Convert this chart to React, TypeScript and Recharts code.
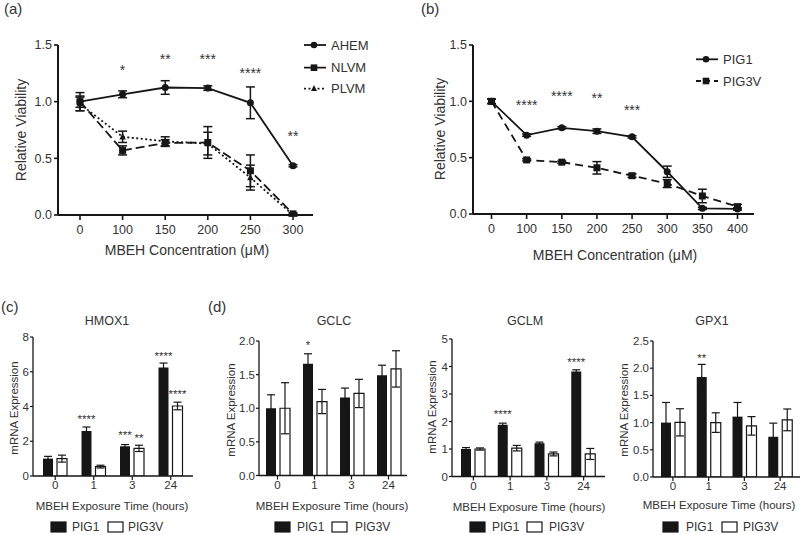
import React from 'react';
import { LineChart, Line, BarChart, Bar, XAxis, YAxis, ErrorBar, LabelList } from 'recharts';

const INK = '#161616';
const TXT = '#333333';
const FONT = '"Liberation Sans", Arial, Helvetica, sans-serif';

// ---------- Panel (a) ----------
const concA = ['0', '100', '150', '200', '250', '300'];
const ahem = [1.0, 1.065, 1.125, 1.12, 0.99, 0.435];
const ahemErr = [0.05, 0.03, 0.06, 0.02, 0.14, 0.01];
const nlvm = [1.0, 0.57, 0.635, 0.64, 0.39, 0.01];
const nlvmErr = [0.08, 0.04, 0.03, 0.14, 0.14, 0.01];
const plvm = [0.98, 0.69, 0.65, 0.63, 0.33, 0.0];
const plvmErr = [0.06, 0.05, 0.04, 0.1, 0.11, 0.01];
const starsA = ['', '*', '**', '***', '****', '**'];
const starYA = [null, 1.31, 1.41, 1.41, 1.28, 0.73];

// ---------- Panel (b) ----------
const concB = ['0', '100', '150', '200', '250', '300', '350', '400'];
const pig1B = [1.0, 0.7, 0.765, 0.735, 0.685, 0.375, 0.05, 0.045];
const pig1BErr = [0.02, 0.01, 0.01, 0.02, 0.01, 0.05, 0.01, 0.01];
const pig3vB = [1.0, 0.48, 0.46, 0.41, 0.34, 0.27, 0.16, 0.065];
const pig3vBErr = [0.02, 0.01, 0.01, 0.055, 0.015, 0.035, 0.06, 0.02];
const starsB = ['', '****', '****', '**', '***', '', '', ''];
const starYB = [null, 1.0, 1.08, 1.06, 0.95, null, null, null];

// ---------- Panels (c)/(d) ----------
const hours = ['0', '1', '3', '24'];

const hmoxPig1 = [1.0, 2.59, 1.71, 6.25];
const hmoxPig1Err = [0.13, 0.23, 0.1, 0.25];
const hmoxPig3v = [1.0, 0.54, 1.59, 4.03];
const hmoxPig3vErr = [0.2, 0.08, 0.18, 0.22];
const hmoxStars1 = ['', '****', '***', '****'];
const hmoxStarY1 = [null, 3.45, 2.55, 7.1];
const hmoxStars3 = ['', '', '**', '****'];
const hmoxStarY3 = [null, null, 2.34, 4.91];

const gclcPig1 = [1.0, 1.66, 1.16, 1.49];
const gclcPig1Err = [0.2, 0.15, 0.14, 0.15];
const gclcPig3v = [1.0, 1.1, 1.22, 1.585];
const gclcPig3vErr = [0.38, 0.18, 0.21, 0.27];
const gclcStars1 = ['', '*', '', ''];
const gclcStarY1 = [null, 1.99, null, null];

const gclmPig1 = [1.0, 1.88, 1.21, 3.82];
const gclmPig1Err = [0.05, 0.06, 0.04, 0.06];
const gclmPig3v = [1.0, 1.03, 0.82, 0.82];
const gclmPig3vErr = [0.04, 0.1, 0.07, 0.2];
const gclmStars1 = ['', '****', '', '****'];
const gclmStarY1 = [null, 2.39, null, 4.27];

const gpxPig1 = [1.0, 1.84, 1.11, 0.74];
const gpxPig1Err = [0.37, 0.23, 0.26, 0.25];
const gpxPig3v = [1.005, 1.0, 0.94, 1.05];
const gpxPig3vErr = [0.25, 0.18, 0.17, 0.2];
const gpxStars1 = ['', '**', '', ''];
const gpxStarY1 = [null, 2.24, null, null];

const noStars = ['', '', '', ''];
const noStarY = [null, null, null, null];

// ---------- tables ----------
const rowsA = concA.map((c, i) => ({
  c, ahem: ahem[i], ahemErr: ahemErr[i], nlvm: nlvm[i], nlvmErr: nlvmErr[i],
  plvm: plvm[i], plvmErr: plvmErr[i], star: starsA[i], starY: starYA[i],
}));
const rowsB = concB.map((c, i) => ({
  c, pig1: pig1B[i], pig1Err: pig1BErr[i], pig3v: pig3vB[i], pig3vErr: pig3vBErr[i],
  star: starsB[i], starY: starYB[i],
}));
const barRows = (p1: number[], e1: number[], p3: number[], e3: number[]) =>
  hours.map((h, i) => ({ h, pig1: p1[i], pig1Err: e1[i], pig3v: p3[i], pig3vErr: e3[i] }));

// ---------- renderers ----------
const circleDot = (r: number) => (p: any) => {
  if (p.cx == null || p.cy == null) return <g key={`ce${p.index}`} />;
  return <circle key={`c${p.index}`} cx={p.cx} cy={p.cy} r={r} fill={INK} />;
};
const squareDot = (s: number) => (p: any) => {
  if (p.cx == null || p.cy == null) return <g key={`se${p.index}`} />;
  return <rect key={`s${p.index}`} x={p.cx - s / 2} y={p.cy - s / 2} width={s} height={s} fill={INK} />;
};
const triDot = (s: number) => (p: any) => {
  if (p.cx == null || p.cy == null) return <g key={`te${p.index}`} />;
  const pts = `${p.cx},${p.cy - s * 0.6} ${p.cx - s / 2},${p.cy + s * 0.4} ${p.cx + s / 2},${p.cy + s * 0.4}`;
  return <polygon key={`t${p.index}`} points={pts} fill={INK} />;
};

const lineStar = (fs: number) => (p: any) => {
  const v = p.value;
  if (!v) return null;
  const vb = p.viewBox || {};
  const x = vb.x ?? p.x;
  const y = vb.y ?? p.y;
  if (x == null || y == null) return null;
  return (
    <text x={x + (vb.width || 0) / 2} y={y + fs * 0.6} textAnchor="middle" fontSize={fs} fill={TXT}>
      {v}
    </text>
  );
};

const barStar = (vals: number[], stars: string[], starY: (number | null)[], fs: number) => (p: any) => {
  const i = p.index;
  if (i == null) return null;
  const s = stars[i];
  const sy = starY[i];
  if (!s || sy == null) return null;
  const vb = p.viewBox || p;
  const { x, y, width, height } = vb;
  const ppu = height / vals[i];
  const cy = y + height - sy * ppu;
  return (
    <text x={x + width / 2} y={cy + fs * 0.6} textAnchor="middle" fontSize={fs} fill={TXT}>
      {s}
    </text>
  );
};

const f1 = (v: number) => v.toFixed(1);
const f0 = (v: number) => String(v);

// ---------- bar panel ----------
type BarPanelProps = {
  left: number; width: number; yWidth: number; top: number; right: number; bottom: number;
  pad: number; max: number; ticks: number[]; fmt: (v: number) => string;
  p1: number[]; e1: number[]; p3: number[]; e3: number[];
  s1: string[]; sy1: (number | null)[]; s3: string[]; sy3: (number | null)[];
};

function BarPanel(pp: BarPanelProps) {
  const data = barRows(pp.p1, pp.e1, pp.p3, pp.e3);
  return (
    <div style={{ position: 'absolute', left: pp.left, top: 300 }}>
      <BarChart
        width={pp.width}
        height={210}
        data={data}
        margin={{ top: pp.top, right: pp.right, bottom: pp.bottom, left: 0 }}
        barGap={4}
        barSize={10}
      >
        <XAxis
          dataKey="h"
          interval={0}
          padding={{ left: pp.pad, right: pp.pad }}
          axisLine={{ stroke: INK, strokeWidth: 1.3 }}
          tickLine={{ stroke: INK, strokeWidth: 1.2 }}
          tickSize={4}
          tickMargin={1}
          tick={{ fill: TXT, fontSize: 11.5 }}
          height={30}
        />
        <YAxis
          type="number"
          domain={[0, pp.max]}
          ticks={pp.ticks}
          allowDataOverflow
          interval={0}
          width={pp.yWidth}
          tickFormatter={pp.fmt}
          axisLine={{ stroke: INK, strokeWidth: 1.3 }}
          tickLine={{ stroke: INK, strokeWidth: 1.2 }}
          tickSize={3}
          tickMargin={1}
          tick={{ fill: TXT, fontSize: 11.5 }}
        />
        <Bar dataKey="pig1" fill={INK} isAnimationActive={false}>
          <ErrorBar dataKey="pig1Err" width={4} stroke={INK} strokeWidth={1.2} direction="y" />
          <LabelList content={barStar(pp.p1, pp.s1, pp.sy1, 11.5)} />
        </Bar>
        <Bar dataKey="pig3v" fill="#ffffff" stroke={INK} strokeWidth={1.2} isAnimationActive={false}>
          <ErrorBar dataKey="pig3vErr" width={4} stroke={INK} strokeWidth={1.2} direction="y" />
          <LabelList content={barStar(pp.p3, pp.s3, pp.sy3, 11.5)} />
        </Bar>
      </BarChart>
    </div>
  );
}

// ---------- overlay helpers ----------
const LineKey = ({ x, y, dash, marker }: { x: number; y: number; dash?: string; marker: string }) => (
  <g>
    <line x1={x} y1={y} x2={x + 22} y2={y} stroke={INK} strokeWidth={1.8} strokeDasharray={dash} />
    {marker === 'circle' && <circle cx={x + 10} cy={y} r={3.3} fill={INK} />}
    {marker === 'square' && <rect x={x + 10 - 3.3} y={y - 3.3} width={6.6} height={6.6} fill={INK} />}
    {marker === 'tri' && (
      <polygon points={`${x + 10},${y - 3.6} ${x + 7},${y + 2.4} ${x + 13},${y + 2.4}`} fill={INK} />
    )}
  </g>
);

const BarKey = ({ x, y, fill, label, tx }: { x: number; y: number; fill: string; label: string; tx: number }) => (
  <g>
    <rect x={x} y={y - 5} width={15} height={10} fill={fill} stroke={INK} strokeWidth={1.2} />
    <text x={tx} y={y + 4.3} fontSize={12} fill={TXT}>{label}</text>
  </g>
);

const VText = ({ x, y, fs, children }: { x: number; y: number; fs: number; children: string }) => (
  <text x={x} y={y} fontSize={fs} fill={TXT} textAnchor="middle" transform={`rotate(-90 ${x} ${y})`}>
    {children}
  </text>
);

export default function App() {
  const axisTop = {
    axisLine: { stroke: INK, strokeWidth: 2 },
    tickLine: { stroke: INK, strokeWidth: 1.6 },
  };
  return (
    <div
      style={{
        position: 'absolute', left: 0, top: 0, width: 800, height: 535,
        background: '#ffffff', fontFamily: FONT, overflow: 'hidden',
      }}
    >
      {/* Panel (a) */}
      <div style={{ position: 'absolute', left: 0, top: 0 }}>
        <LineChart width={400} height={270} data={rowsA} margin={{ top: 45, right: 87, bottom: 25, left: 0 }}>
          <XAxis
            dataKey="c" interval={0} {...axisTop} tickSize={5} tickMargin={5}
            padding={{ left: 22, right: 20 }}
            tick={{ fill: TXT, fontSize: 12.5 }} height={30}
          />
          <YAxis
            type="number" domain={[0, 1.5]} ticks={[0, 0.5, 1, 1.5]} allowDataOverflow interval={0}
            width={58} tickFormatter={f1} {...axisTop} tickSize={4} tickMargin={2}
            tick={{ fill: TXT, fontSize: 12.5 }}
          />
          <Line dataKey="plvm" stroke={INK} strokeWidth={1.8} strokeDasharray="2 2.5" dot={triDot(6.5)} isAnimationActive={false}>
            <ErrorBar dataKey="plvmErr" width={4.5} stroke={INK} strokeWidth={1.5} direction="y" />
          </Line>
          <Line dataKey="nlvm" stroke={INK} strokeWidth={1.8} strokeDasharray="9 4" dot={squareDot(7)} isAnimationActive={false}>
            <ErrorBar dataKey="nlvmErr" width={4.5} stroke={INK} strokeWidth={1.5} direction="y" />
          </Line>
          <Line dataKey="ahem" stroke={INK} strokeWidth={1.8} dot={circleDot(3.5)} isAnimationActive={false}>
            <ErrorBar dataKey="ahemErr" width={4.5} stroke={INK} strokeWidth={1.5} direction="y" />
          </Line>
          <Line dataKey="starY" stroke="none" dot={false} activeDot={false} legendType="none" isAnimationActive={false}>
            <LabelList dataKey="star" content={lineStar(14)} />
          </Line>
        </LineChart>
      </div>

      {/* Panel (b) */}
      <div style={{ position: 'absolute', left: 400, top: 0 }}>
        <LineChart width={400} height={270} data={rowsB} margin={{ top: 45, right: 46, bottom: 26, left: 0 }}>
          <XAxis
            dataKey="c" interval={0} {...axisTop} tickSize={5} tickMargin={5}
            padding={{ left: 18.5, right: 16.5 }}
            tick={{ fill: TXT, fontSize: 12.5 }} height={30}
          />
          <YAxis
            type="number" domain={[0, 1.5]} ticks={[0, 0.5, 1, 1.5]} allowDataOverflow interval={0}
            width={73} tickFormatter={f1} {...axisTop} tickSize={4} tickMargin={2}
            tick={{ fill: TXT, fontSize: 12.5 }}
          />
          <Line dataKey="pig3v" stroke={INK} strokeWidth={1.8} strokeDasharray="8 5" dot={squareDot(7)} isAnimationActive={false}>
            <ErrorBar dataKey="pig3vErr" width={4.5} stroke={INK} strokeWidth={1.5} direction="y" />
          </Line>
          <Line dataKey="pig1" stroke={INK} strokeWidth={1.8} dot={circleDot(3.5)} isAnimationActive={false}>
            <ErrorBar dataKey="pig1Err" width={4.5} stroke={INK} strokeWidth={1.5} direction="y" />
          </Line>
          <Line dataKey="starY" stroke="none" dot={false} activeDot={false} legendType="none" isAnimationActive={false}>
            <LabelList dataKey="star" content={lineStar(14)} />
          </Line>
        </LineChart>
      </div>

      {/* Panel (c) HMOX1 */}
      <BarPanel
        left={0} width={200} yWidth={33} top={37} right={7} bottom={4} pad={3}
        max={8} ticks={[0, 2, 4, 6, 8]} fmt={f0}
        p1={hmoxPig1} e1={hmoxPig1Err} p3={hmoxPig3v} e3={hmoxPig3vErr}
        s1={hmoxStars1} sy1={hmoxStarY1} s3={hmoxStars3} sy3={hmoxStarY3}
      />
      {/* GCLC */}
      <BarPanel
        left={220} width={200} yWidth={39} top={41} right={13} bottom={4.5} pad={0}
        max={2} ticks={[0, 0.5, 1, 1.5, 2]} fmt={f1}
        p1={gclcPig1} e1={gclcPig1Err} p3={gclcPig3v} e3={gclcPig3vErr}
        s1={gclcStars1} sy1={gclcStarY1} s3={noStars} sy3={noStarY}
      />
      {/* GCLM */}
      <BarPanel
        left={420} width={200} yWidth={32} top={39} right={15} bottom={3.5} pad={3}
        max={5} ticks={[0, 1, 2, 3, 4, 5]} fmt={f0}
        p1={gclmPig1} e1={gclmPig1Err} p3={gclmPig3v} e3={gclmPig3vErr}
        s1={gclmStars1} sy1={gclmStarY1} s3={noStars} sy3={noStarY}
      />
      {/* GPX1 */}
      <BarPanel
        left={610} width={190} yWidth={43} top={41} right={0} bottom={3} pad={2}
        max={2.5} ticks={[0, 0.5, 1, 1.5, 2, 2.5]} fmt={f1}
        p1={gpxPig1} e1={gpxPig1Err} p3={gpxPig3v} e3={gpxPig3vErr}
        s1={gpxStars1} sy1={gpxStarY1} s3={noStars} sy3={noStarY}
      />

      {/* Text & legends overlay */}
      <svg
        width={800}
        height={535}
        style={{ position: 'absolute', left: 0, top: 0, pointerEvents: 'none', fontFamily: FONT }}
      >
        <text x={4} y={14} fontSize={15} fill={TXT}>(a)</text>
        <text x={421} y={14} fontSize={15} fill={TXT}>(b)</text>
        <text x={1} y={312} fontSize={15} fill={TXT}>(c)</text>
        <text x={208} y={312} fontSize={15} fill={TXT}>(d)</text>

        <VText x={26} y={130} fs={14}>Relative Viability</VText>
        <VText x={445} y={129} fs={14}>Relative Viability</VText>
        <text x={187} y={255} fontSize={14} fill={TXT} textAnchor="middle">MBEH Concentration (μM)</text>
        <text x={615} y={260} fontSize={14} fill={TXT} textAnchor="middle">MBEH Concentration (μM)</text>

        <LineKey x={304} y={45} marker="circle" />
        <text x={331} y={49.7} fontSize={13} fill={TXT}>AHEM</text>
        <LineKey x={304} y={67.7} marker="square" dash="9 4" />
        <text x={331} y={72.4} fontSize={13} fill={TXT}>NLVM</text>
        <LineKey x={304} y={88.7} marker="tri" dash="2 2.5" />
        <text x={331} y={93.4} fontSize={13} fill={TXT}>PLVM</text>

        <LineKey x={696} y={59.3} marker="circle" />
        <text x={723} y={64} fontSize={13} fill={TXT}>PIG1</text>
        <LineKey x={696} y={81} marker="square" dash="5 4" />
        <text x={723} y={85.7} fontSize={13} fill={TXT}>PIG3V</text>

        <text x={107} y={324.5} fontSize={12.5} fill={TXT} textAnchor="middle">HMOX1</text>
        <text x={334} y={324.5} fontSize={12.5} fill={TXT} textAnchor="middle">GCLC</text>
        <text x={525} y={324.5} fontSize={12.5} fill={TXT} textAnchor="middle">GCLM</text>
        <text x={712} y={324.5} fontSize={12.5} fill={TXT} textAnchor="middle">GPX1</text>

        <VText x={17.5} y={408} fs={11.5}>mRNA Expression</VText>
        <VText x={235} y={410} fs={11.5}>mRNA Expression</VText>
        <VText x={436} y={407} fs={11.5}>mRNA Expression</VText>
        <VText x={628} y={410} fs={11.5}>mRNA Expression</VText>

        <text x={112} y={510} fontSize={11.5} fill={TXT} textAnchor="middle">MBEH Exposure Time (hours)</text>
        <text x={332} y={509.5} fontSize={11.5} fill={TXT} textAnchor="middle">MBEH Exposure Time (hours)</text>
        <text x={529} y={511} fontSize={11.5} fill={TXT} textAnchor="middle">MBEH Exposure Time (hours)</text>
        <text x={719} y={509} fontSize={11.5} fill={TXT} textAnchor="middle">MBEH Exposure Time (hours)</text>

        <BarKey x={51} y={527} fill={INK} label="PIG1" tx={72} />
        <BarKey x={108} y={527} fill="#ffffff" label="PIG3V" tx={128} />
        <BarKey x={275} y={527} fill={INK} label="PIG1" tx={297} />
        <BarKey x={332} y={527} fill="#ffffff" label="PIG3V" tx={355} />
        <BarKey x={470} y={527} fill={INK} label="PIG1" tx={492} />
        <BarKey x={527} y={527} fill="#ffffff" label="PIG3V" tx={549} />
        <BarKey x={663} y={527} fill={INK} label="PIG1" tx={686} />
        <BarKey x={722} y={527} fill="#ffffff" label="PIG3V" tx={743} />
      </svg>
    </div>
  );
}
